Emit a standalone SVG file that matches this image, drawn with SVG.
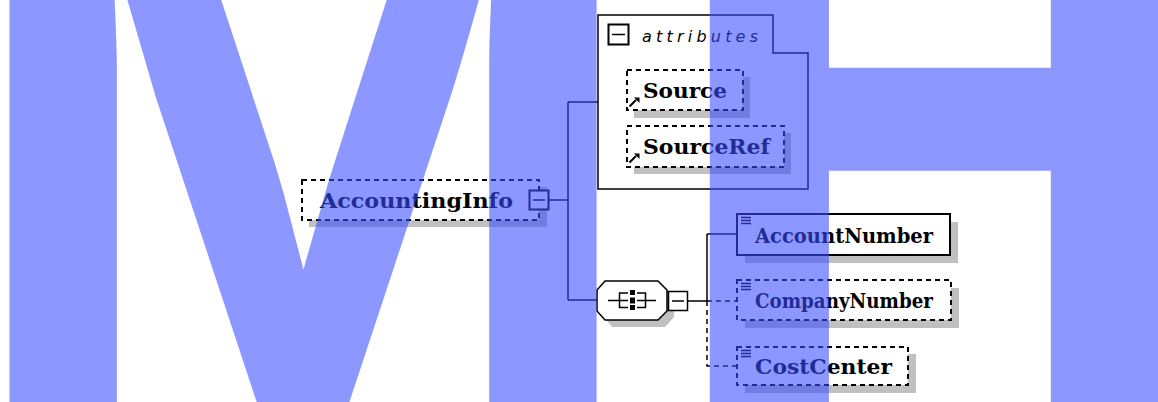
<svg xmlns="http://www.w3.org/2000/svg" width="1158" height="402" viewBox="0 0 1158 402">
<defs>
<style>
.lbl{font-family:"DejaVu Serif","Liberation Serif",serif;font-weight:bold;font-size:21px;fill:#000}
.ital{font-family:"DejaVu Sans","Liberation Sans",sans-serif;font-style:italic;font-size:16px;fill:#000}
.box{fill:#fff;stroke:#000;stroke-width:2}
.dbox{fill:#fff;stroke:#000;stroke-width:2;stroke-dasharray:5 4}
.shadow{fill:#c0c0c0}
.con{fill:none;stroke:#000;stroke-width:1.5}
.dcon{fill:none;stroke:#000;stroke-width:1.5;stroke-dasharray:5 4}
.ico{fill:none;stroke:#000;stroke-width:1.5}
.wm{font-family:"Liberation Sans",Arial,sans-serif;font-weight:bold;font-size:820px;fill:#3b4dff}
</style>
</defs>
<rect width="1158" height="402" fill="#fff"/>

<g id="connectors">
<path class="con" d="M549 200H568M568 102V300M568 102H598M568 300H597"/>
<path class="con" d="M688 301H707M707 234V301M707 234H737"/>
<path class="dcon" d="M707 301H737M707 301V366H737"/>
</g>

<g id="AccountingInfo">
<rect class="shadow" x="309" y="187" width="238" height="40"/>
<rect class="dbox" x="302" y="180" width="237" height="40"/>
<text class="lbl" x="320" y="208" textLength="193" lengthAdjust="spacingAndGlyphs">AccountingInfo</text>
<rect class="box" x="529.5" y="190.5" width="19" height="19" stroke-width="1.5"/>
<path class="ico" d="M533 200H545"/>
</g>

<g id="attributes">
<path d="M598 15H773V53H808V189H598Z" fill="#fff" stroke="#000" stroke-width="1.5"/>
<rect x="608.5" y="24.5" width="20" height="20" fill="#fff" stroke="#000" stroke-width="2"/>
<path class="ico" d="M612 34.5H625" stroke-width="2"/>
<text class="ital" x="642" y="42" textLength="116" lengthAdjust="spacing">attributes</text>
</g>

<g id="Source">
<rect class="shadow" x="634" y="77" width="116" height="41"/>
<rect class="dbox" x="627" y="70" width="116" height="40"/>
<text class="lbl" x="643" y="98" textLength="84" lengthAdjust="spacingAndGlyphs">Source</text>
<path d="M629.5 106.5L636 100" stroke="#000" stroke-width="2"/>
<path d="M639.5 97.5L639.5 103L634 97.5Z" fill="#000"/>
</g>

<g id="SourceRef">
<rect class="shadow" x="634" y="133" width="157" height="41"/>
<rect class="dbox" x="627" y="126" width="157" height="41"/>
<text class="lbl" x="643" y="154" textLength="127" lengthAdjust="spacingAndGlyphs">SourceRef</text>
<path d="M629.5 162.5L636 156" stroke="#000" stroke-width="2"/>
<path d="M639.5 153.5L639.5 159L634 153.5Z" fill="#000"/>
</g>

<g id="sequence">
<path class="shadow" d="M612 287H665L674 297V317L665 327H612L604 317V297Z"/>
<path d="M605 281H658L667 290V311L658 320H605L597 311V290Z" fill="#fff" stroke="#000" stroke-width="1.5"/>
<path class="ico" d="M608 300.5H619M628 293H619.5V307.5H628M619.5 300.5H628M637 293H645.5V307.5H637M645.5 300.5H637M645.5 300.5H656"/>
<rect x="630" y="290" width="5" height="5" fill="#000"/>
<rect x="630" y="297.5" width="5" height="6" fill="#000"/>
<rect x="630" y="305" width="5" height="5" fill="#000"/>
<rect x="668.5" y="291.5" width="19" height="19" fill="#fff" stroke="#000" stroke-width="1.5"/>
<path class="ico" d="M672 301H684"/>
</g>

<g id="AccountNumber">
<rect class="shadow" x="745" y="222" width="213" height="41"/>
<rect class="box" x="737" y="214" width="213" height="41"/>
<path class="ico" d="M741 217.5H751M741 220.5H751M741 223.5H751" stroke-width="1.2"/>
<text class="lbl" x="755" y="243" textLength="178" lengthAdjust="spacingAndGlyphs">AccountNumber</text>
</g>

<g id="CompanyNumber">
<rect class="shadow" x="745" y="288" width="214" height="40"/>
<rect class="dbox" x="737" y="280" width="214" height="40"/>
<path class="ico" d="M741 283.5H751M741 286.5H751M741 289.5H751" stroke-width="1.2"/>
<text class="lbl" x="755" y="308" textLength="178" lengthAdjust="spacingAndGlyphs">CompanyNumber</text>
</g>

<g id="CostCenter">
<rect class="shadow" x="745" y="354" width="171" height="39"/>
<rect class="dbox" x="737" y="347" width="171" height="38"/>
<path class="ico" d="M741 350.5H751M741 353.5H751M741 356.5H751" stroke-width="1.2"/>
<text class="lbl" x="755" y="374" textLength="137" lengthAdjust="spacingAndGlyphs">CostCenter</text>
</g>

<g id="watermark" opacity="0.58">
<text class="wm" x="-50" y="421" transform="matrix(1.024,0,0,1,4.5,-9)">M</text>
<text class="wm" x="650" y="421" transform="matrix(0.937,0,0,0.966,53.6,-6.6)" stroke="#3b4dff" stroke-width="9" stroke-linejoin="miter">H</text>
</g>
</svg>
